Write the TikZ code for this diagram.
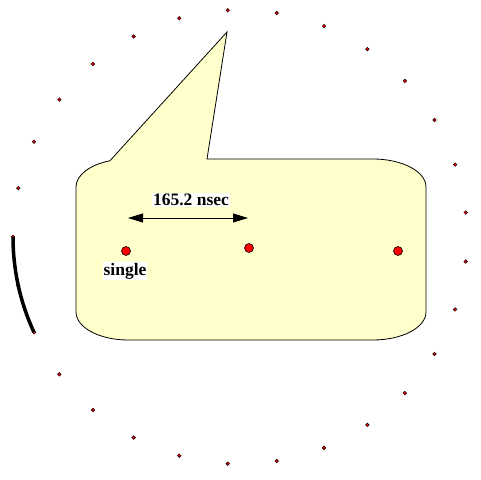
\documentclass[tikz,border=0pt]{standalone}
\usepackage{fontspec}
\setmainfont{Liberation Serif}
\usetikzlibrary{arrows.meta,calc}
\definecolor{callout}{RGB}{255,255,204}
\definecolor{dotred}{RGB}{255,0,0}
\begin{document}
\begin{tikzpicture}[x=1pt,y=1pt]
        \tikzstyle{ring dot}=[circle,draw,fill=dotred,line width=0.5pt,inner sep=0pt,minimum size=3.6pt]
        \tikzstyle{hit dot}=[circle,draw,fill=dotred,line width=0.6pt,inner sep=0pt,minimum size=9pt]
        \tikzstyle{tag}=[fill=white,inner sep=1pt,font=\fontsize{17.5}{20}\selectfont\bfseries]
        \useasboundingbox (0,0) rectangle (481,479);
        \coordinate (c) at (240,242);
        % ring of small dots
        \foreach \k in {0,...,28}
          \node[ring dot] (r\k) at ($(c)+({6.2+12.414*\k}:227)$) {};
        % thick arc on the ring
        \draw[line width=3.5pt] (c) ++(180:227) arc[start angle=180,end angle=204.8,radius=227];
        % the callout
        \draw[fill=callout,line width=0.8pt] (227,447) -- (207,320) -- (373,320)
          arc[start angle=90,end angle=0,x radius=53,y radius=28] -- (426,167)
          arc[start angle=0,end angle=-90,x radius=53,y radius=28] -- (128,139)
          arc[start angle=270,end angle=180,x radius=52,y radius=28] -- (76,292)
          arc[start angle=180,end angle=110.3,x radius=52,y radius=28] -- cycle;
        \node[hit dot] (single) at (126,228) {};
        \node[hit dot] (mid) at (249,231) {};
        \node[hit dot] (far) at (398,228) {};
        \node[tag] (single label) at (125,208) {single};
        \node[tag] (gap label) at (191,279) {165.2 nsec};
        \coordinate (gap left) at (128,261);
        \coordinate (gap right) at (248,261);
        \draw[{Triangle[length=15pt,width=9pt]}-{Triangle[length=15pt,width=9pt]},line width=0.8pt] (gap left) -- (gap right);
\end{tikzpicture}
\end{document}
